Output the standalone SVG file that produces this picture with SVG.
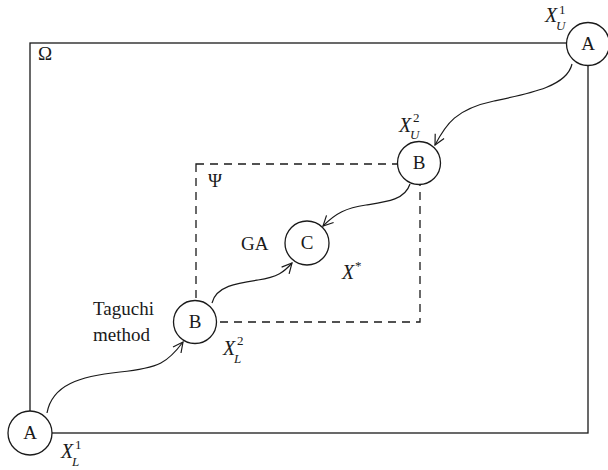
<svg xmlns="http://www.w3.org/2000/svg" width="608" height="470" viewBox="0 0 608 470">
<defs>
<style>
.frame{fill:none;stroke:#1a1a1a;stroke-width:1.3}
.dash{fill:none;stroke:#1a1a1a;stroke-width:1.3;stroke-dasharray:8 6}
.node{fill:#fff;stroke:#1a1a1a;stroke-width:1.3}
.conn{fill:none;stroke:#1a1a1a;stroke-width:1.2;marker-end:url(#arr)}
text{font-family:"Liberation Serif","Times New Roman",serif;font-size:19px;fill:#1a1a1a}
.c{text-anchor:middle}
.i{font-style:italic;font-size:20px}
.s{font-size:13px;font-style:normal}
.si{font-size:13px;font-style:italic}
</style>
<marker id="arr" viewBox="0 0 12 12" refX="11" refY="6" markerWidth="12" markerHeight="12" markerUnits="userSpaceOnUse" orient="auto">
<path d="M1,1 L11,6 L1,11" fill="none" stroke="#1a1a1a" stroke-width="1.2"/>
</marker>
</defs>
<rect class="frame" x="30" y="43" width="558" height="390"/>
<text x="38" y="60">Ω</text>
<rect class="dash" x="196" y="164" width="224" height="158"/>
<text x="208" y="187">Ψ</text>
<g id="connectors">
<path class="conn" d="M47,413 C52,385 80,376 120,372 S168,362 183,342"/>
<path class="conn" d="M212,303 C216,286 238,283 258,280 S284,272 292,263"/>
<path class="conn" d="M410,184 C405,200 386,202 366,205 S336,213 323,226"/>
<path class="conn" d="M572,64 C567,86 532,93 494,101 S446,124 435,145"/>
</g>
<g id="A1">
<circle class="node" cx="588" cy="44" r="21.5"/>
<text class="c" x="588" y="50">A</text>
<text class="i" x="545" y="22">X</text><text class="s" x="559" y="14">1</text><text class="si" x="556" y="30">U</text>
</g>
<g id="B1">
<circle class="node" cx="419" cy="163" r="21.5"/>
<text class="c" x="419" y="169">B</text>
<text class="i" x="399" y="132">X</text><text class="s" x="413" y="122">2</text><text class="si" x="410" y="139">U</text>
</g>
<g id="C">
<circle class="node" cx="307" cy="243" r="22"/>
<text class="c" x="307" y="249">C</text>
<text x="241" y="250">GA</text>
<text class="i" x="342" y="279">X</text><text class="s" x="355" y="270">*</text>
</g>
<g id="B2">
<circle class="node" cx="195" cy="322" r="21.5"/>
<text class="c" x="195" y="328">B</text>
<text x="93" y="315">Taguchi</text>
<text x="93" y="341">method</text>
<text class="i" x="223" y="355">X</text><text class="s" x="237" y="345">2</text><text class="si" x="234" y="363">L</text>
</g>
<g id="A2">
<circle class="node" cx="30" cy="433" r="22"/>
<text class="c" x="30" y="439">A</text>
<text class="i" x="61" y="458">X</text><text class="s" x="75" y="449">1</text><text class="si" x="72" y="466">L</text>
</g>
</svg>
